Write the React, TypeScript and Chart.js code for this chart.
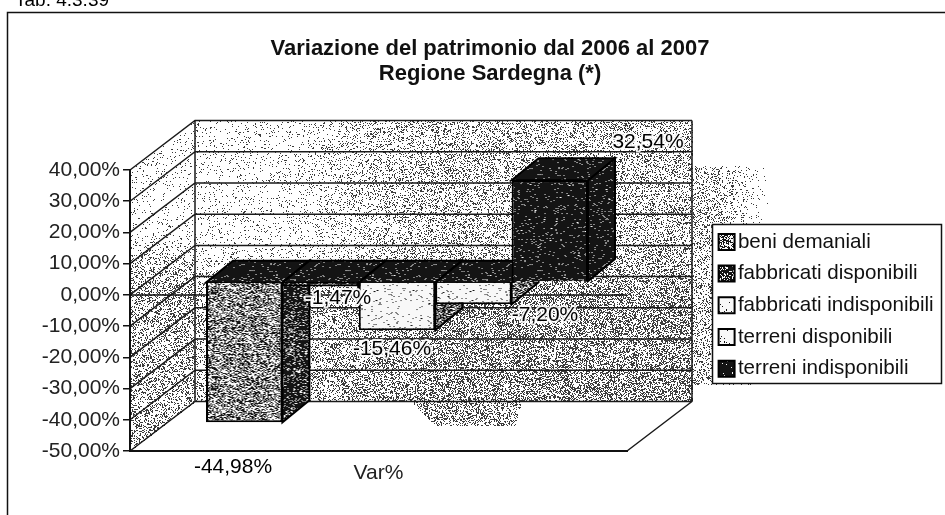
import React, { useEffect, useRef } from "react";
import { Chart, registerables } from "chart.js";

Chart.register(...registerables);

const categories = ["Var%"];
const seriesNames = ["beni demaniali", "fabbricati disponibili", "fabbricati indisponibili", "terreni disponibili", "terreni indisponibili"];
const beniDemaniali = [-44.98];
const fabbricatiDisponibili = [-1.47];
const fabbricatiIndisponibili = [-15.46];
const terreniDisponibili = [-7.2];
const terreniIndisponibili = [32.54];
const titleLines = ["Variazione del patrimonio dal 2006 al 2007", "Regione Sardegna (*)"];
const caption = "Tab. 4.3.39";

// scene styling (not data)
const BACK = { dx: 65, dy: -49.5 };
const BAR_SHIFT = { dx: 18.5, dy: -13 };
const BAR_DEPTH = { dx: 27, dy: -22 };
const labelPos = [[233, 467], [338, 298], [392, 349], [545, 315], [648, 142]];
const frontDensity = [0.48, 0.78, 0.05, 0.05, 0.95];
const sideDensity = [0.8, 0.8, 0.62, 0.6, 0.95];
const topDensity = [0.95, 0.95, 0.95, 0.95, 0.95];

const grain = (x: number, y: number) => {
  const s = Math.sin(x * 12.9898 + y * 78.233) * 43758.5453;
  return s - Math.floor(s);
};
const ss = (t: number) => {
  const c = Math.max(0, Math.min(1, t));
  return c * c * (3 - 2 * c);
};

function pattern(density: number): CanvasPattern {
  const c = document.createElement("canvas");
  c.width = 96;
  c.height = 96;
  const g = c.getContext("2d")!;
  const img = g.createImageData(96, 96);
  for (let y = 0; y < 96; y++)
    for (let x = 0; x < 96; x++) {
      const v = grain(x + 3, y + 7) < density ? 20 : 248;
      const i = (y * 96 + x) * 4;
      img.data[i] = img.data[i + 1] = img.data[i + 2] = v;
      img.data[i + 3] = 255;
    }
  g.putImageData(img, 0, 0);
  return g.createPattern(c, "repeat")!;
}

function wallDensity(x: number, y: number): number {
  if (x >= 195 && x <= 692 && y >= 121 && y <= 401) {
    return Math.min(0.44, 0.07 + 0.2 * ss((x - 260) / 200) + 0.17 * ss((y - 235) / 70));
  }
  if (x >= 130 && x < 195) {
    const t = (x - 130) / 65;
    if (y >= 170 - t * 49.5 && y <= 451 - t * 49.5) return 0.06 + 0.24 * ss((y - 230) / 50);
  }
  if (y > 401 && y < 451) {
    if (y < 426 && x > 410 + (y - 401) && x < 522 - (y - 401) * 0.3) return 0.36;
    return 0;
  }
  if (x > 692 && x < 775 && y > 165 && y < 385) return 0.25 * (1 - ss((x - 705) / 70));
  return 0;
}

function texture(): HTMLCanvasElement {
  const c = document.createElement("canvas");
  c.width = 945;
  c.height = 515;
  const g = c.getContext("2d")!;
  const img = g.createImageData(945, 515);
  for (let y = 0; y < 515; y++)
    for (let x = 0; x < 945; x++) {
      const i = (y * 945 + x) * 4;
      const v = grain(x, y) < wallDensity(x, y) ? 60 : 255;
      img.data[i] = img.data[i + 1] = img.data[i + 2] = v;
      img.data[i + 3] = 255;
    }
  g.putImageData(img, 0, 0);
  return c;
}

function poly(ctx: CanvasRenderingContext2D, pts: number[][], fill: CanvasPattern) {
  ctx.beginPath();
  pts.forEach(([x, y], i) => (i ? ctx.lineTo(x, y) : ctx.moveTo(x, y)));
  ctx.closePath();
  ctx.fillStyle = fill;
  ctx.fill();
  ctx.strokeStyle = "#000";
  ctx.lineWidth = 2;
  ctx.stroke();
}

export default function App() {
  const ref = useRef<HTMLCanvasElement>(null);
  useEffect(() => {
    const tex = texture();
    const fronts = frontDensity.map(pattern);
    const sides = sideDensity.map(pattern);
    const tops = topDensity.map(pattern);
    const values = [beniDemaniali, fabbricatiDisponibili, fabbricatiIndisponibili, terreniDisponibili, terreniIndisponibili];

    const scene = {
      id: "scene",
      afterLayout(chart: any) {
        const t = chart.titleBlock;
        t.left = 35;
        t.right = 945;
        const l = chart.legend;
        l.left = 714.5;
        l.right = 942;
        l.top = 220.5;
        l.bottom = 420;
        l.width = 227.5;
        l.height = 199.5;
      },
      beforeDraw(chart: any) {
        const { ctx, scales } = chart;
        const y = scales.y;
        const { left, right, bottom, top } = chart.chartArea;
        ctx.save();
        ctx.drawImage(tex, 0, 0);
        // frame runs off the scan on the right and at the bottom
        ctx.strokeStyle = "#111";
        ctx.lineWidth = 1.5;
        ctx.strokeRect(7.5, 12.5, 960, 600);
        // walls
        ctx.strokeStyle = "#1a1a1a";
        const bx = BACK.dx, by = BACK.dy;
        ctx.beginPath();
        y.ticks.forEach((t: any) => {
          const py = y.getPixelForValue(t.value);
          ctx.moveTo(left, py);
          ctx.lineTo(left + bx, py + by);
          ctx.lineTo(right + bx, py + by);
        });
        ctx.moveTo(left + bx, top + by);
        ctx.lineTo(left + bx, bottom + by);
        ctx.moveTo(right + bx, top + by);
        ctx.lineTo(right + bx, bottom + by);
        ctx.lineTo(right, bottom);
        ctx.stroke();
        // legend box
        ctx.fillStyle = "#fff";
        ctx.fillRect(712, 224, 230, 160);
        ctx.strokeStyle = "#111";
        ctx.lineWidth = 1.5;
        ctx.strokeRect(712.5, 224.5, 229, 159);
        ctx.restore();
      },
      beforeDatasetsDraw(chart: any) {
        const { ctx, scales } = chart;
        const zero = scales.y.getPixelForValue(0);
        ctx.save();
        ctx.strokeStyle = "#111";
        ctx.lineWidth = 1.5;
        ctx.beginPath();
        ctx.moveTo(chart.chartArea.left, zero);
        ctx.lineTo(chart.chartArea.right, zero);
        ctx.stroke();
        ctx.translate(BAR_SHIFT.dx, BAR_SHIFT.dy);
        const d = BAR_DEPTH;
        chart.data.datasets.forEach((_: any, i: number) => {
          const el = chart.getDatasetMeta(i).data[0];
          const xr = el.x + el.width / 2;
          const xl = el.x - el.width / 2;
          const hi = Math.min(el.y, el.base);
          const lo = Math.max(el.y, el.base);
          poly(ctx, [[xr, hi], [xr + d.dx, hi + d.dy], [xr + d.dx, lo + d.dy], [xr, lo]], sides[i]);
          poly(ctx, [[xl, hi], [xl + d.dx, hi + d.dy], [xr + d.dx, hi + d.dy], [xr, hi]], tops[i]);
        });
      },
      afterDatasetsDraw(chart: any) {
        const { ctx } = chart;
        ctx.restore();
        ctx.save();
        ctx.font = "21px 'Liberation Sans'";
        ctx.fillStyle = "#000";
        ctx.textAlign = "center";
        ctx.textBaseline = "middle";
        ctx.strokeStyle = "rgba(255,255,255,0.9)";
        ctx.lineWidth = 4;
        ctx.lineJoin = "round";
        values.forEach((v, i) => {
          const txt = v[0].toFixed(2).replace(".", ",") + "%";
          ctx.strokeText(txt, labelPos[i][0], labelPos[i][1]);
          ctx.fillText(txt, labelPos[i][0], labelPos[i][1]);
        });
        ctx.textAlign = "left";
        ctx.textBaseline = "alphabetic";
        ctx.font = "19px 'Liberation Sans'";
        ctx.fillText(caption, 15, 6);
        ctx.restore();
      },
    };

    const chart = new Chart(ref.current!, {
      type: "bar",
      data: {
        labels: categories,
        datasets: values.map((data, i) => ({
          label: seriesNames[i],
          data,
          backgroundColor: fronts[i],
          borderColor: "#000",
          borderWidth: 2,
          clip: false,
        })),
      } as any,
      options: {
        responsive: false,
        animation: false,
        font: { family: "'Liberation Sans'" },
        layout: { padding: { left: 0, right: 318, top: 0, bottom: 0 } },
        datasets: { bar: { categoryPercentage: 0.7686, barPercentage: 1 } },
        plugins: {
          title: {
            display: true,
            text: titleLines,
            color: "#111",
            font: { family: "'Liberation Sans'", size: 22, weight: "bold", lineHeight: 1.15 },
            padding: { top: 36, bottom: 83.4 },
          },
          legend: {
            display: true,
            position: "chartArea",
            align: "start",
            labels: {
              usePointStyle: true,
              pointStyle: "rect",
              boxWidth: 2,
              boxHeight: 16,
              padding: 11.1,
              color: "#111",
              font: { family: "'Liberation Sans'", size: 20.6 },
            },
          },
          tooltip: { enabled: false },
        },
        scales: {
          x: {
            grid: { display: false },
            border: { color: "#111", width: 2 },
            ticks: { color: "#222", padding: 2, font: { family: "'Liberation Sans'", size: 21 } },
            afterFit(s: any) {
              s.height = 64;
            },
          },
          y: {
            min: -50,
            max: 40,
            afterFit(s: any) {
              s.width = 130;
            },
            grid: { drawOnChartArea: false, drawTicks: true, tickLength: 7, color: "#111", lineWidth: 1.5 },
            border: { color: "#111", width: 2 },
            ticks: {
              stepSize: 10,
              color: "#222",
              padding: 3,
              font: { family: "'Liberation Sans'", size: 21 },
              callback: (v: any) => Number(v).toFixed(2).replace(".", ",") + "%",
            },
          },
        },
      } as any,
      plugins: [scene] as any,
    });
    return () => chart.destroy();
  }, []);
  return (
    <canvas
      ref={ref}
      width={945}
      height={515}
      style={{ position: "fixed", left: 0, top: 0, display: "block", background: "#fff" }}
    />
  );
}
